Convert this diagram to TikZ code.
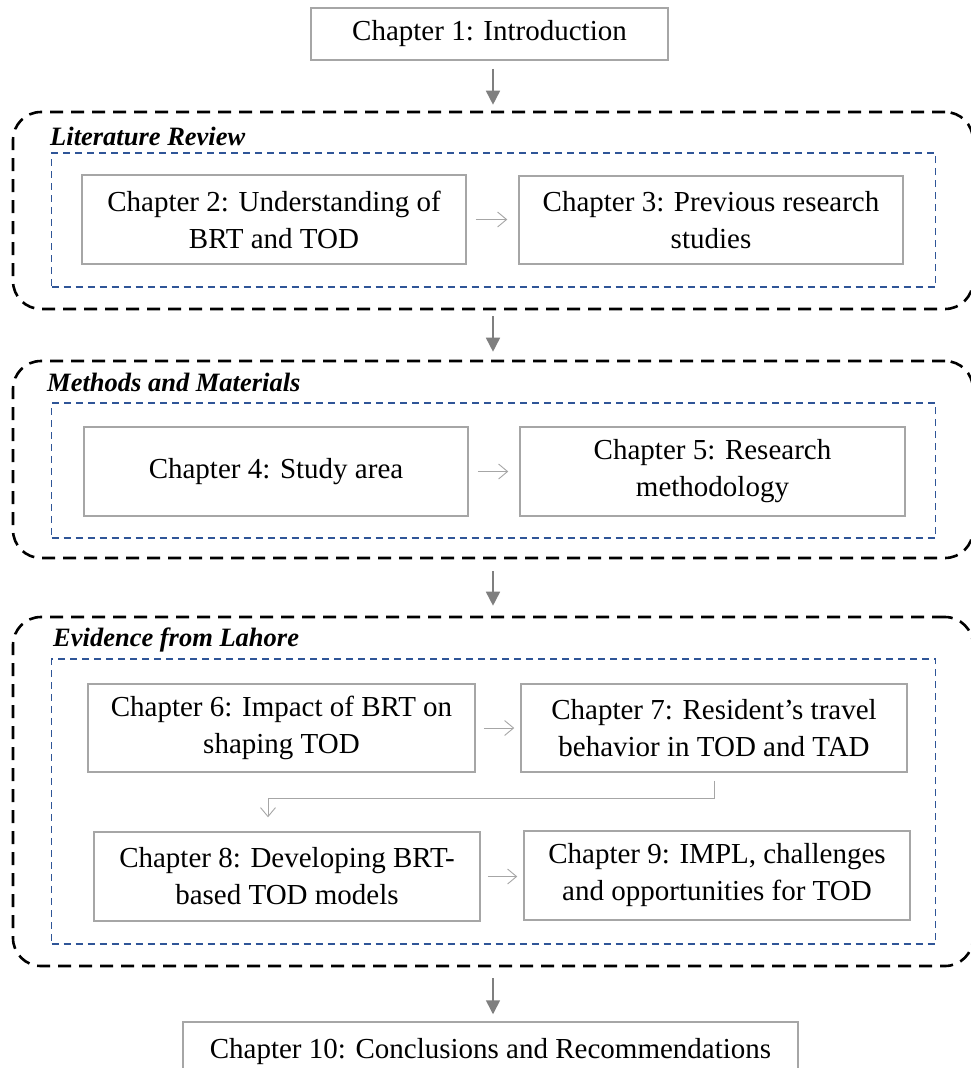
\documentclass[tikz,border=0pt]{standalone}
\usepackage{fontspec}
\setmainfont{Liberation Serif}
\usetikzlibrary{arrows.meta}
\definecolor{boxgray}{HTML}{A6A6A6}
\definecolor{arrgray}{HTML}{7F7F7F}
\definecolor{thingray}{HTML}{A6A6A6}
\definecolor{dblue}{HTML}{2F5597}
\tikzset{
  chap/.style={draw=boxgray, line width=1.5pt, rectangle, inner sep=0pt, align=center,
    font=\fontsize{29}{37}\selectfont, text=black},
  outerbox/.style={draw=black, line width=2.6pt, dash pattern=on 13pt off 8pt, rounded corners=28pt, rectangle, inner sep=0pt},
  bluebox/.style={draw=dblue, line width=1.7pt, dash pattern=on 7pt off 5pt, rectangle, inner sep=0pt},
  seclabel/.style={anchor=west, font=\fontsize{26.5}{30}\selectfont\bfseries\itshape, inner sep=0pt},
  bigarrow/.style={draw=arrgray, line width=1.6pt, -{Triangle[width=14pt,length=14pt]}},
  thinarrow/.style={draw=thingray, line width=0.9pt, -{Straight Barb[length=9pt,width=15pt]}}
}
\begin{document}
\begin{tikzpicture}[x=1pt,y=-1pt]
\clip (0,0) rectangle (971,1068);
\fill[white] (0,0) rectangle (971,1068);

% section containers
\node[outerbox, minimum width=960pt, minimum height=197pt] (lit) at (493,210.5) {};
\node[outerbox, minimum width=960pt, minimum height=197pt] (meth) at (493,459.5) {};
\node[outerbox, minimum width=960pt, minimum height=349pt] (evid) at (493,791.5) {};

\node[bluebox, minimum width=884pt, minimum height=134pt] (litin) at (493.5,220) {};
\node[bluebox, minimum width=884pt, minimum height=135pt] (methin) at (493.5,470.5) {};
\node[bluebox, minimum width=884pt, minimum height=285pt] (evidin) at (493.5,801.5) {};

\node[seclabel] (litlab) at (50,136) {Literature Review};
\node[seclabel] (methlab) at (47,382) {Methods and Materials};
\node[seclabel] (evidlab) at (53,640) {Evidence from Lahore};

% chapters
\node[chap, minimum width=357pt, minimum height=52pt] (ch1) at (489.5,34) {Chapter 1: Introduction};
\node[chap, minimum width=384pt, minimum height=89pt] (ch2) at (274,219.5) {Chapter 2: Understanding of\\BRT and TOD};
\node[chap, minimum width=384pt, minimum height=88pt] (ch3) at (711,220) {Chapter 3: Previous research\\studies};
\node[chap, minimum width=384pt, minimum height=89pt] (ch4) at (276,471.5) {Chapter 4: Study area};
\node[chap, minimum width=385pt, minimum height=89pt] (ch5) at (712.5,471.5) {Chapter 5: Research\\methodology};
\node[chap, minimum width=387pt, minimum height=88pt] (ch6) at (281.5,728) {Chapter 6: Impact of BRT on\\shaping TOD};
\node[chap, minimum width=386pt, minimum height=88pt] (ch7) at (714,728) {Chapter 7: Resident's travel\\behavior in TOD and TAD};
\node[chap, minimum width=386pt, minimum height=89pt] (ch8) at (287,876.5) {Chapter 8: Developing BRT-\\based TOD models};
\node[chap, minimum width=386pt, minimum height=89pt] (ch9) at (717,875.5) {Chapter 9: IMPL, challenges\\and opportunities for TOD};
\node[chap, minimum width=615pt, minimum height=60pt] (ch10) at (490.5,1052) {Chapter 10: Conclusions and Recommendations};

% big arrows between sections
\draw[bigarrow, shorten <=8pt, shorten >=6pt] (lit.north |- ch1.south) -- (lit.north);
\draw[bigarrow, shorten <=6pt, shorten >=8pt] (lit.south) -- (meth.north);
\draw[bigarrow, shorten <=12pt, shorten >=10pt] (meth.south) -- (evid.north);
\draw[bigarrow, shorten <=11pt, shorten >=7pt] (evid.south) -- (evid.south |- ch10.north);

% thin arrows within sections
\draw[thinarrow, shorten <=9pt, shorten >=11pt] (ch2.east) -- (ch2.east -| ch3.west);
\draw[thinarrow, shorten <=9pt, shorten >=11pt] (ch4.east) -- (ch4.east -| ch5.west);
\draw[thinarrow, shorten <=8pt, shorten >=6pt] (ch6.east) -- (ch6.east -| ch7.west);
\draw[thinarrow, shorten <=7pt, shorten >=6pt] (ch8.east) -- (ch8.east -| ch9.west);
\coordinate (e1) at (268,798);
\draw[thinarrow, shorten <=8pt, shorten >=14pt] (ch7.south) |- (e1) -- (e1 |- ch8.north);
\end{tikzpicture}
\end{document}
